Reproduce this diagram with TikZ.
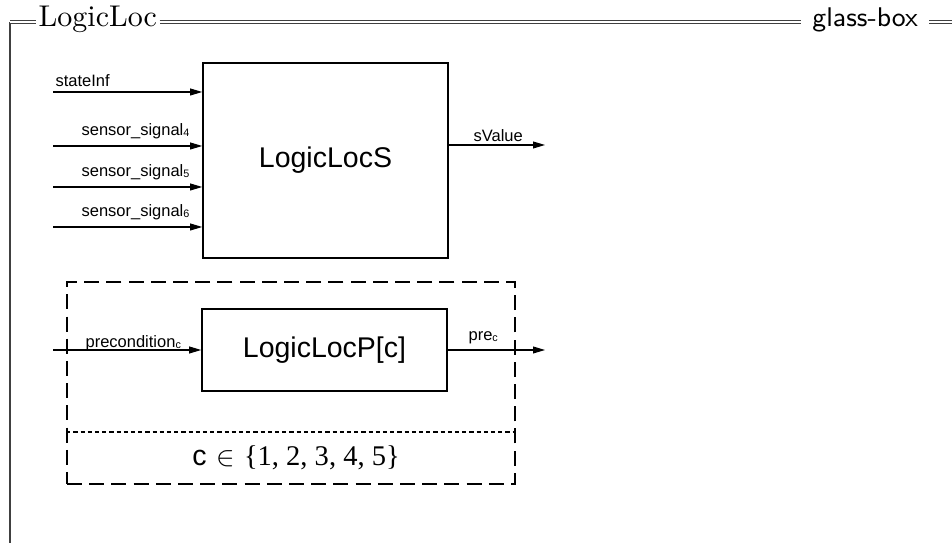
\documentclass[tikz,border=0pt]{standalone}
\usepackage{fontspec}
\newfontfamily\arialfont{Liberation Sans}
\newfontfamily\timesfont{Liberation Serif}
\usetikzlibrary{arrows.meta}
\newcommand{\lblsub}[1]{\raisebox{-0.3pt}{\fontsize{3.6}{4}\selectfont #1}}

\begin{document}
\begin{tikzpicture}[x=0.3333pt, y=-0.3333pt,
    frame/.style = {draw=black!75, line width=0.35pt},
    block/.style = {draw, line width=0.5pt, inner sep=0pt, font=\arialfont\fontsize{9.5}{11}\selectfont},
    sig/.style = {line width=0.35pt, -{Triangle[length=4pt, width=2.3pt]}},
    lbl/.style = {inner sep=0pt, font=\arialfont\fontsize{5.5}{6}\selectfont},
    group/.style = {draw, line width=0.6pt, dash pattern=on 5pt off 2.4pt, inner sep=0pt},
    sepline/.style = {line width=0.35pt, dash pattern=on 1.4pt off 1pt}]
    \useasboundingbox (0,0) rectangle (952,543);
    % frame with title
    \coordinate (top) at (0,22);
    \coordinate (corner) at (10,22);
    \node[inner xsep=0.7pt, inner ysep=0pt, anchor=base west] (name) at (36,26.5) {LogicLoc};
    \node[inner xsep=3.6pt, inner ysep=0pt, anchor=base west, font=\sffamily\small] (kind) at (801,27) {glass-box};
    \draw[frame] (10,543) -- (corner);
    \draw[frame, double, double distance=0.55pt] (corner) -- (name.west |- top);
    \draw[frame, double, double distance=0.55pt] (name.east |- top) -- (kind.west |- top);
    \draw[frame, double, double distance=0.55pt] (kind.east |- top) -- (952,22);
    % LogicLocS
    \node[block, minimum width=81.7pt, minimum height=65pt] (S) at (325.5,160.5) {LogicLocS};
    \coordinate (i1) at (53,92);
    \coordinate (i2) at (53,146);
    \coordinate (i3) at (53,187);
    \coordinate (i4) at (53,227);
    \coordinate (o1) at (545,145);
    \draw[sig] (i1) -- (i1 -| S.west);
    \draw[sig] (i2) -- (i2 -| S.west);
    \draw[sig] (i3) -- (i3 -| S.west);
    \draw[sig] (i4) -- (i4 -| S.west);
    \draw[sig] (o1 -| S.east) -- (o1);
    \node[lbl, anchor=base west] (l1) at (55,87) {stateInf};
    \node[lbl, anchor=base west] (l2) at (81,135.5) {sensor\_signal\lblsub{4}};
    \node[lbl, anchor=base west] (l3) at (81,176.5) {sensor\_signal\lblsub{5}};
    \node[lbl, anchor=base west] (l4) at (81,216.5) {sensor\_signal\lblsub{6}};
    \node[lbl, anchor=base west] (l5) at (473,141.5) {sValue};
    % replicated LogicLocP
    \node[group, minimum width=149.3pt, minimum height=67.3pt] (G) at (291,383) {};
    \coordinate (sep) at (0,432);
    \draw[sepline] (G.west |- sep) -- (G.east |- sep);
    \node[block, minimum width=81.7pt, minimum height=27.3pt] (P) at (324.5,350) {LogicLocP[c]};
    \coordinate (i5) at (53,350);
    \coordinate (o2) at (545,350);
    \draw[sig] (i5) -- (P.west);
    \draw[sig] (P.east) -- (o2);
    \node[lbl, anchor=base west] (l6) at (85,348) {precondition\lblsub{c}};
    \node[lbl, anchor=base west] (l7) at (468,341) {pre\lblsub{c}};
    \node[inner sep=0pt] (range) at (296,458) {\fontsize{9.5}{11}\selectfont{\arialfont c} $\in$ {\timesfont\{1, 2, 3, 4, 5\}}};
\end{tikzpicture}
\end{document}
